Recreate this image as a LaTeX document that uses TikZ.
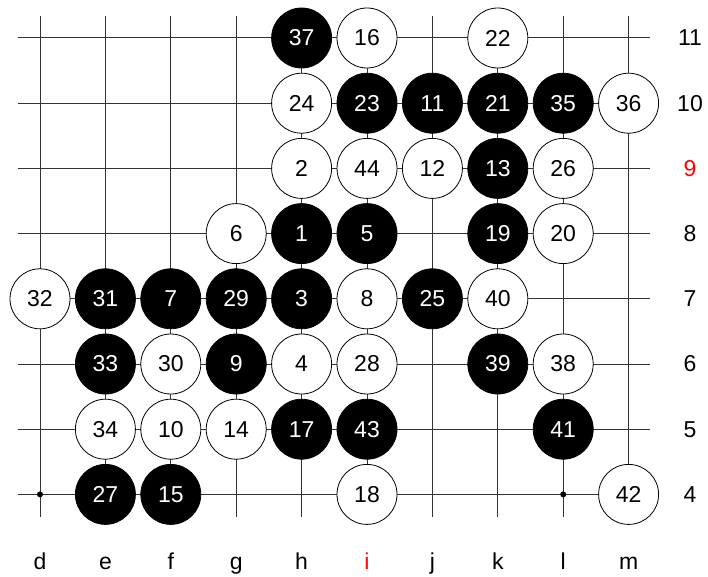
\documentclass[tikz,border=0pt]{standalone}
\usepackage{fontspec}
\setmainfont{Liberation Sans}
\newcommand\gx[1]{40+65.4*#1}
\newcommand\gy[1]{38+65.2*(11-#1)}
\begin{document}
\begin{tikzpicture}[x=1pt,y=-1pt,
  gridline/.style={line width=1pt, black!80},
  stonebase/.style={circle, draw=black, line width=0.8pt, minimum size=60pt, inner sep=0pt, font=\fontsize{23}{27}\selectfont},
  bst/.style={stonebase, fill=black, text=white},
  wst/.style={stonebase, fill=white, text=black},
  lbl/.style={font=\fontsize{23}{27}\selectfont, text=black, inner sep=0pt},
  hoshi/.style={circle, fill=black, inner sep=0pt, minimum size=6pt}]
\useasboundingbox (0,0) rectangle (708,577);
% grid
\foreach \i in {0,...,9}
  \draw[gridline] ({\gx{\i}},16) -- ({\gx{\i}},517);
\foreach \r in {4,...,11}
  \draw[gridline] (18,{\gy{\r}}) -- (650,{\gy{\r}});
% star points
\node[hoshi] (hd4) at ({\gx{0}},{\gy{4}}) {};
\node[hoshi] (hl4) at ({\gx{8}},{\gy{4}}) {};
% stones: style / column index / row / number
\foreach \s/\c/\r/\n in {
  bst/4/11/37, wst/5/11/16, wst/7/11/22,
  wst/4/10/24, bst/5/10/23, bst/6/10/11, bst/7/10/21, bst/8/10/35, wst/9/10/36,
  wst/4/9/2, wst/5/9/44, wst/6/9/12, bst/7/9/13, wst/8/9/26,
  wst/3/8/6, bst/4/8/1, bst/5/8/5, bst/7/8/19, wst/8/8/20,
  wst/0/7/32, bst/1/7/31, bst/2/7/7, bst/3/7/29, bst/4/7/3, wst/5/7/8, bst/6/7/25, wst/7/7/40,
  bst/1/6/33, wst/2/6/30, bst/3/6/9, wst/4/6/4, wst/5/6/28, bst/7/6/39, wst/8/6/38,
  wst/1/5/34, wst/2/5/10, wst/3/5/14, bst/4/5/17, bst/5/5/43, bst/8/5/41,
  bst/1/4/27, bst/2/4/15, wst/5/4/18, wst/9/4/42}
  \node[\s] (s\n) at ({\gx{\c}},{\gy{\r}}) {\n};
% column labels
\foreach \c/\t in {0/d,1/e,2/f,3/g,4/h,6/j,7/k,8/l,9/m}
  \node[lbl, anchor=base] (col\t) at ({\gx{\c}},569) {\t};
\node[lbl, anchor=base, text=red] (coli) at ({\gx{5}},569) {i};
% row labels
\foreach \r in {4,5,6,7,8,10,11}
  \node[lbl] (row\r) at (690,{\gy{\r}}) {\r};
\node[lbl, text=red] (row9) at (690,{\gy{9}}) {9};
\end{tikzpicture}
\end{document}
